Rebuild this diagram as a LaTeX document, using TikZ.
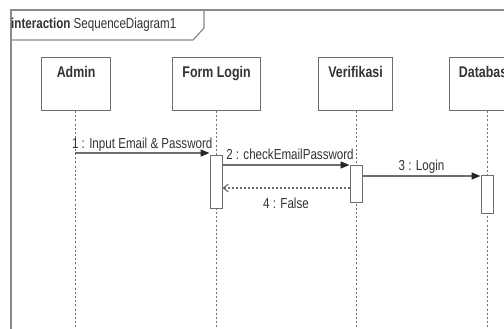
\documentclass[tikz,border=0pt]{standalone}
\usepackage{fontspec}
\setmainfont{Liberation Sans}[FakeStretch=0.8]
\usetikzlibrary{arrows.meta,calc}
\definecolor{linegray}{HTML}{6E6E6E}
\definecolor{framegray}{HTML}{8A8A8A}
\definecolor{txtgray}{HTML}{333333}
\tikzset{
  x=1pt, y=-1pt,
  every node/.style={text=txtgray},
  lifebox/.style={draw=linegray, line width=1.1pt, fill=white, minimum width=69pt,
    minimum height=53pt, inner ysep=3pt, text height=16pt, text depth=30pt,
    anchor=north west, font=\bfseries\fontsize{15.5}{16}\selectfont},
  activation/.style={draw=linegray, line width=1pt, fill=white, minimum width=12pt,
    inner sep=0pt, anchor=north west},
  lifeline/.style={draw=linegray, line width=1pt, dash pattern=on 2pt off 2.2pt},
  call/.style={draw=linegray, line width=1.3pt,
    -{Triangle[length=9pt,width=7pt,color=black!85]}},
  reply/.style={draw=linegray, line width=1.1pt, dash pattern=on 2pt off 2pt,
    -{Straight Barb[length=5pt,width=8pt]}},
  msglabel/.style={font=\fontsize{14.5}{15}\selectfont, inner sep=0pt, anchor=base},
}
\begin{document}
\begin{tikzpicture}
\useasboundingbox[fill=white] (0,0) rectangle (504,329);
% interaction frame, running past the page edges
\draw[framegray, line width=1.6pt] (11,331) -- (11,10) -- (506,10);
\draw[framegray, line width=1.2pt] (11,40) -- (193,40) -- (204,28) -- (204,10);
\node[anchor=base west, inner sep=0pt, font=\fontsize{14.5}{15}\selectfont] (framelabel) at (11,29)
  {\textbf{interaction} SequenceDiagram1};

% lifeline heads
\node[lifebox] (admin) at (41,57) {Admin};
\node[lifebox, minimum width=88pt] (form) at (172,57) {Form Login};
\node[lifebox, minimum width=74pt] (verif) at (318,57) {Verifikasi};
\node[lifebox, minimum width=74pt] (db) at (449,57) {Database};

% lifeline ends
\coordinate (adminEnd) at (75,329);
\coordinate (formEnd) at (216,329);
\coordinate (verifEnd) at (356,329);
\coordinate (dbEnd) at (487,329);
\draw[lifeline] (admin.south -| adminEnd) -- (adminEnd);
\draw[lifeline] (form.south -| formEnd) -- (formEnd);
\draw[lifeline] (verif.south -| verifEnd) -- (verifEnd);
\draw[lifeline] (db.south -| dbEnd) -- (dbEnd);

% activation bars
\node[activation, minimum height=53pt] (formAct) at (209.5,155) {};
\node[activation, minimum height=37pt] (verifAct) at (349.5,165) {};
\node[activation, minimum height=38pt] (dbAct) at (480.5,175) {};

% messages
\coordinate (m1) at (0,153);
\coordinate (m2) at (0,165);
\coordinate (m3) at (0,176);
\coordinate (m4) at (0,188);
\draw[call] (adminEnd |- m1) -- (formAct.west |- m1)
  node[msglabel, midway, yshift=4.5pt] (l1) {1 : Input Email \& Password};
\draw[call] (formAct.east |- m2) -- (verifAct.west |- m2)
  node[msglabel, midway, yshift=6pt, xshift=4pt] (l2) {2 : checkEmailPassword};
\draw[call] (verifAct.east |- m3) -- (dbAct.west |- m3)
  node[msglabel, midway, yshift=6pt] (l3) {3 : Login};
\draw[reply] (verifAct.west |- m4) -- (formAct.east |- m4)
  node[msglabel, midway, yshift=-20pt] (l4) {4 : False};
\end{tikzpicture}
\end{document}
